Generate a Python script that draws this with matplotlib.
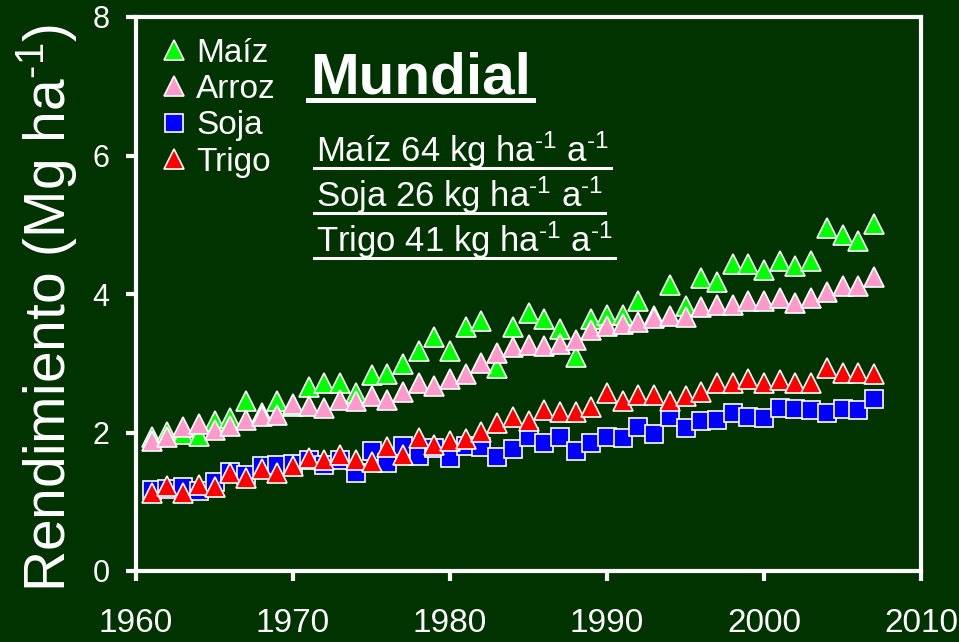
import matplotlib
matplotlib.use("Agg")
import matplotlib.pyplot as plt
from matplotlib.lines import Line2D

plt.rcParams["font.family"] = ["Liberation Sans", "DejaVu Sans"]
plt.rcParams["mathtext.fontset"] = "custom"
plt.rcParams["mathtext.rm"] = "Liberation Sans"
plt.rcParams["mathtext.it"] = "Liberation Sans"

years = list(range(1961, 2008))
maiz = [1.94, 2.01, 1.98, 1.95, 2.16, 2.21, 2.45, 2.28, 2.45, 2.38,
        2.66, 2.71, 2.72, 2.57, 2.83, 2.84, 2.99, 3.17, 3.38, 3.17,
        3.52, 3.61, 2.93, 3.53, 3.73, 3.64, 3.49, 3.09, 3.64, 3.70,
        3.70, 3.90, 3.68, 4.13, 3.82, 4.23, 4.17, 4.44, 4.44, 4.34,
        4.48, 4.40, 4.47, 4.95, 4.85, 4.77, 5.01]
arroz = [1.88, 1.93, 2.08, 2.12, 2.04, 2.09, 2.18, 2.24, 2.25, 2.41,
         2.38, 2.35, 2.47, 2.45, 2.53, 2.47, 2.59, 2.72, 2.67, 2.77,
         2.85, 3.00, 3.15, 3.24, 3.26, 3.25, 3.28, 3.34, 3.48, 3.54,
         3.57, 3.60, 3.65, 3.68, 3.67, 3.81, 3.84, 3.84, 3.90, 3.90,
         3.94, 3.87, 3.94, 4.03, 4.11, 4.12, 4.24]
soja = [1.17, 1.18, 1.21, 1.15, 1.29, 1.43, 1.39, 1.51, 1.53, 1.55,
        1.60, 1.53, 1.60, 1.41, 1.74, 1.56, 1.80, 1.66, 1.77, 1.63,
        1.80, 1.79, 1.65, 1.76, 1.93, 1.85, 1.94, 1.74, 1.85, 1.93,
        1.92, 2.08, 1.98, 2.22, 2.06, 2.16, 2.18, 2.28, 2.22, 2.21,
        2.36, 2.34, 2.33, 2.28, 2.34, 2.32, 2.48]
trigo = [1.12, 1.23, 1.13, 1.24, 1.22, 1.42, 1.34, 1.47, 1.42, 1.51,
         1.63, 1.60, 1.68, 1.61, 1.58, 1.79, 1.68, 1.92, 1.82, 1.88,
         1.90, 2.01, 2.13, 2.23, 2.17, 2.32, 2.30, 2.30, 2.37, 2.57,
         2.45, 2.54, 2.54, 2.45, 2.52, 2.58, 2.72, 2.71, 2.77, 2.72,
         2.76, 2.71, 2.71, 2.93, 2.86, 2.86, 2.85]

series = [("Maíz", maiz, "^", "#00ff00"),
          ("Arroz", arroz, "^", "#ff99cc"),
          ("Soja", soja, "s", "#0000ff"),
          ("Trigo", trigo, "^", "#ff0000")]

bg = "#003300"
fig = plt.figure(figsize=(9.59, 6.42), dpi=100, facecolor=bg)
ax = fig.add_axes([136 / 959, 1 - 571 / 642, 785 / 959, 554 / 642])
ax.set_facecolor(bg)

for name, vals, mk, col in series:
    ms = 13 if mk == "s" else 14
    ax.plot(years, vals, linestyle="none", marker=mk, ms=ms, mfc=col,
            mec="white", mew=1.2, label=name, clip_on=False)

ax.set_xlim(1960, 2010)
ax.set_ylim(0, 8)
ax.set_xticks(range(1960, 2011, 10))
ax.set_yticks(range(0, 9, 2))
for sp in ax.spines.values():
    sp.set_color("white")
    sp.set_linewidth(3)
ax.tick_params(axis="both", colors="white", direction="out", length=7, width=3)
ax.tick_params(axis="x", labelsize=24, pad=20)
ax.tick_params(axis="y", labelsize=22, pad=12)

ax.set_ylabel(r"Rendimiento (Mg ha$^{\text{-1}}$)", fontsize=41, color="white")
ax.yaxis.set_label_coords(-0.072, 0.475)

leg = ax.legend(loc="upper left", bbox_to_anchor=(0.0235, 0.975), frameon=False,
                fontsize=24, handlelength=0.8, handletextpad=0.25,
                labelspacing=0.16, borderaxespad=0, borderpad=0.2)
for t in leg.get_texts():
    t.set_color("white")

# titles with underline (positions in pixels of the figure)
W, H = 959, 642
labels = [("Mundial", 310, 93, 42, "bold", 100, 3.6),
          (r"Maíz 64 kg ha$^{\text{-1}}$ a$^{\text{-1}}$", 316, 161.7, 25, "normal", 167.5, 2.2),
          (r"Soja 26 kg ha$^{\text{-1}}$ a$^{\text{-1}}$", 316, 206.7, 25, "normal", 213, 2.2),
          (r"Trigo 41 kg ha$^{\text{-1}}$ a$^{\text{-1}}$", 316, 251.7, 25, "normal", 258, 2.2)]
texts = []
for s, x, y, fs, fw, uy, lw in labels:
    t = fig.text(x / W, 1 - y / H, s, fontsize=fs, fontweight=fw, color="white",
                 ha="left", va="baseline")
    texts.append((t, uy, lw))

fig.canvas.draw()
r = fig.canvas.get_renderer()
for t, uy, lw in texts:
    bb = t.get_window_extent(r)
    fig.add_artist(Line2D([bb.x0 / W - 0.002, bb.x1 / W + 0.002], [1 - uy / H, 1 - uy / H],
                          transform=fig.transFigure, color="white", lw=lw))

fig.savefig("out.png", dpi=100, facecolor=bg)
